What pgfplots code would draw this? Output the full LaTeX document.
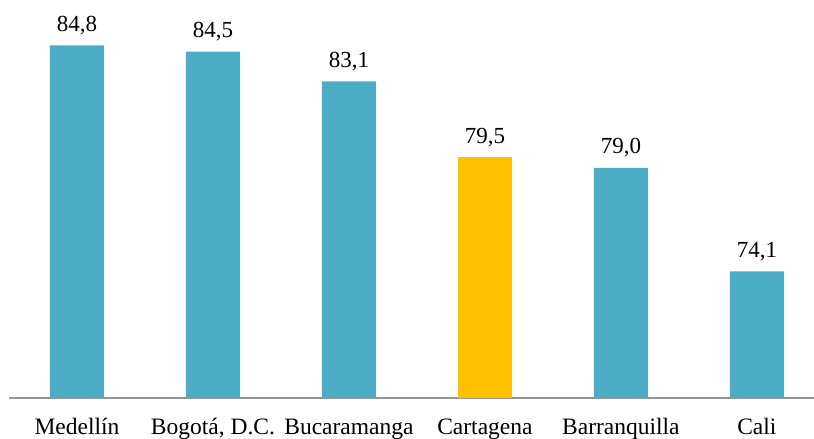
\documentclass[border=0pt]{standalone}
\usepackage{pgfplots}
\pgfplotsset{compat=1.18}
\usepackage{fontspec}
\setmainfont{Liberation Serif}
\definecolor{barblue}{HTML}{4BACC6}
\definecolor{baryellow}{HTML}{FFC000}
\definecolor{axisgray}{HTML}{969696}
\begin{document}
\begin{tikzpicture}
\begin{axis}[
  scale only axis,
  width=805pt, height=398pt,
  xmin=-0.5, xmax=5.42,
  ymin=68.1, ymax=86.95,
  hide y axis,
  axis x line*=bottom,
  x axis line style={-, draw=axisgray, line width=1.2pt},
  xtick={0,1,2,3,4,5},
  xticklabels={Medellín, {Bogotá, D.C.}, Bucaramanga, Cartagena, Barranquilla, Cali},
  xtick style={draw=none},
  xticklabel style={font=\fontsize{23.5}{27}\selectfont, text height=16pt, text depth=5pt, yshift=-13pt},
  ybar, bar shift=0pt, bar width=54pt,
  nodes near coords,
  nodes near coords style={font=\fontsize{23}{27}\selectfont, yshift=7pt,
    /pgf/number format/.cd, assume math mode=true, use comma, fixed, fixed zerofill, precision=1},
  clip=false,
]
\addplot[fill=barblue, draw=none] coordinates {(0,84.8) (1,84.5) (2,83.1) (4,79.0) (5,74.1)};
\addplot[fill=baryellow, draw=none] coordinates {(3,79.5)};
\coordinate (bl) at (rel axis cs:0,0);
\coordinate (tr) at (rel axis cs:1,1);
\end{axis}
\pgfresetboundingbox
\path (bl) ++(-9pt,-41pt) rectangle (tr);
\end{tikzpicture}
\end{document}
